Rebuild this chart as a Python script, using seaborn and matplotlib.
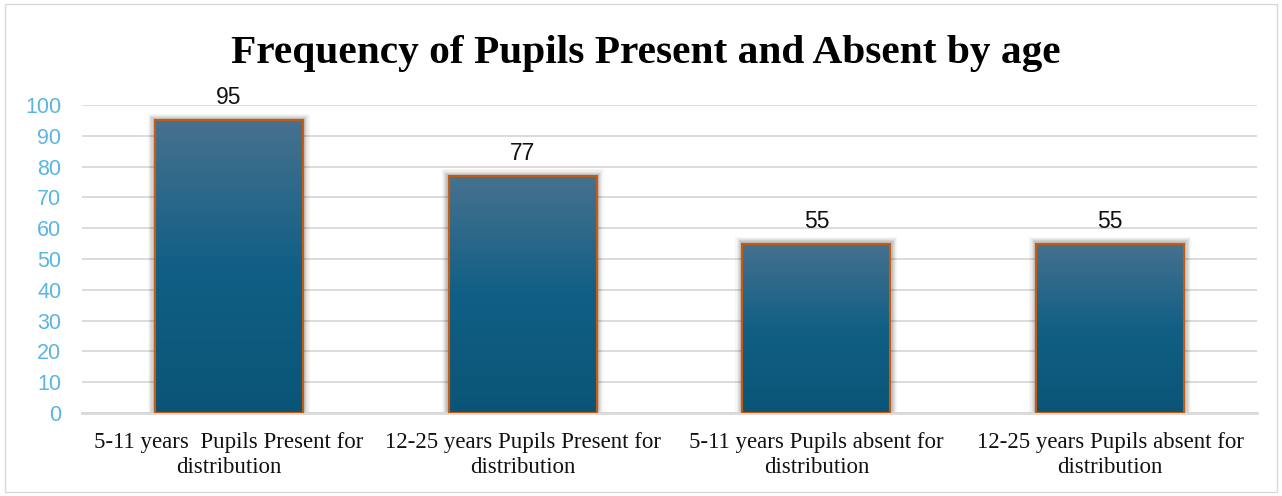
import numpy as np
import pandas as pd
import matplotlib
matplotlib.use("Agg")
import matplotlib.pyplot as plt
import seaborn as sns
from matplotlib.patches import Rectangle

categories = [
    "5-11 years  Pupils Present for\ndistribution",
    "12-25 years Pupils Present for\ndistribution",
    "5-11 years Pupils absent for\ndistribution",
    "12-25 years Pupils absent for\ndistribution",
]
values = [95, 77, 55, 55]
yticks = [0, 10, 20, 30, 40, 50, 60, 70, 80, 90, 100]
title = "Frequency of Pupils Present and Absent by age"

df = pd.DataFrame({"category": categories, "value": values})

sns.set_theme(style="white")
plt.rcParams["font.family"] = ["Liberation Sans", "DejaVu Sans"]

fig = plt.figure(figsize=(12.82, 4.96), dpi=100)
ax = fig.add_axes([82 / 1282, 1 - 413 / 496, (1257 - 82) / 1282, (413 - 105) / 496])

sns.barplot(data=df, x="category", y="value", ax=ax, width=0.503,
            color="#1A6387", edgecolor="#C55A11", linewidth=1.5, zorder=3)

ax.set_ylim(0, 100)
ax.set_xlim(-0.5, len(categories) - 0.5)
ax.set_yticks(yticks)
ax.set_yticklabels([str(t) for t in yticks], color="#5BB5E3", fontsize=15.5)
ax.tick_params(axis="y", length=0, pad=15)
ax.tick_params(axis="x", length=0, pad=14)
for lbl in ax.get_xticklabels():
    lbl.set_fontfamily("Liberation Serif")
    lbl.set_fontsize(16.5)
    lbl.set_color("#111111")
    lbl.set_linespacing(1.2)
ax.set_xlabel("")
ax.set_ylabel("")
ax.grid(axis="y", color="#D9D9D9", linewidth=1.3, zorder=0)
ax.grid(axis="x", visible=False)
for side in ["left", "right", "top"]:
    ax.spines[side].set_visible(False)
ax.spines["bottom"].set_color("#D9D9D9")
ax.spines["bottom"].set_linewidth(2)

# vertical gradient fill, soft shadow and value label for each bar
grad = np.linspace(0, 1, 256).reshape(-1, 1)
cmap = matplotlib.colors.LinearSegmentedColormap.from_list(
    "bar", ["#0A5577", "#115F85", "#47718F"])
for patch, v in zip(ax.patches, values):
    x0, w = patch.get_x(), patch.get_width()
    for k, a in zip(range(6, 0, -1), [0.03, 0.04, 0.05, 0.06, 0.07, 0.08]):
        dx = k * 0.004
        ax.add_patch(Rectangle((x0 - dx, 0), w + 2 * dx, v + k * 0.35,
                               facecolor="#000000", alpha=a, linewidth=0,
                               zorder=2))
    im = ax.imshow(grad, extent=(x0, x0 + w, 0, v), origin="lower",
                   aspect="auto", cmap=cmap, zorder=3.5)
    im.set_clip_path(patch)
    edge = Rectangle((x0, 0), w, v, facecolor="none", edgecolor="#C55A11",
                     linewidth=1.5, zorder=4)
    ax.add_patch(edge)
    ax.text(x0 + w / 2, v + 3.6, str(v), ha="center", va="bottom",
            fontsize=16.5, color="#111111", zorder=5)
ax.set_xlim(-0.5, len(categories) - 0.5)
ax.set_ylim(0, 100)

fig.text(646 / 1282, 1 - 54 / 496, title, ha="center", va="center",
         fontfamily="Liberation Serif", fontweight="bold", fontsize=29.8,
         color="#000000")

# outer chart frame
fig.add_artist(Rectangle((5 / 1282, 4 / 496), 1272 / 1282, 488 / 496,
                         transform=fig.transFigure, facecolor="none",
                         edgecolor="#D9D9D9", linewidth=1))

fig.savefig("out.png", dpi=100, facecolor="white")
